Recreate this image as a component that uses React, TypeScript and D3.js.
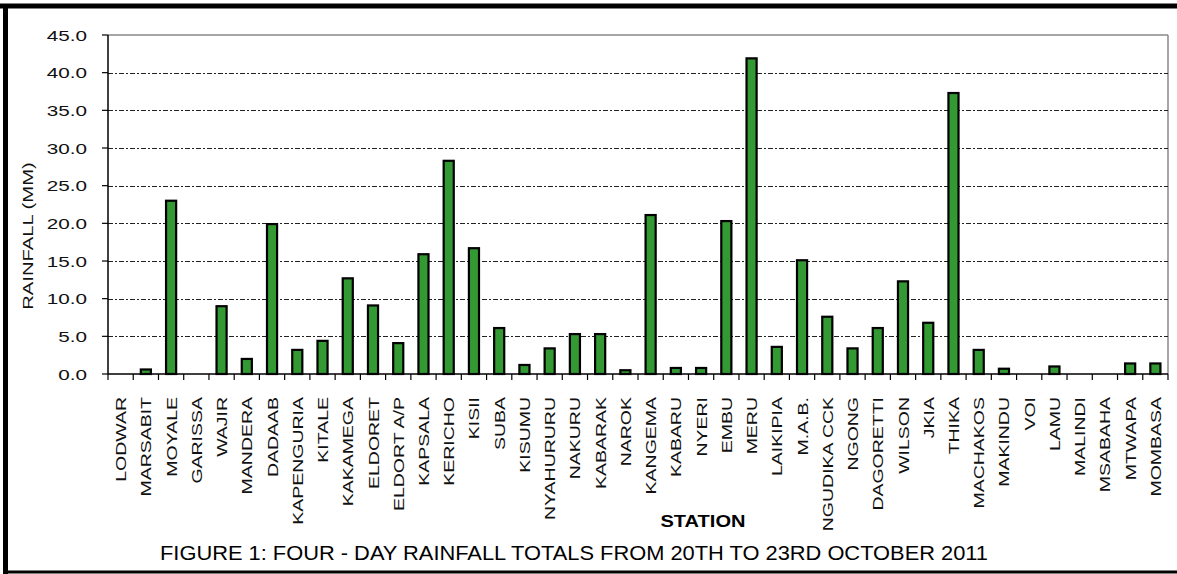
import React from "react";
import * as d3 from "d3";

const stations = [
  "LODWAR", "MARSABIT", "MOYALE", "GARISSA", "WAJIR", "MANDERA", "DADAAB",
  "KAPENGURIA", "KITALE", "KAKAMEGA", "ELDORET", "ELDORT A/P", "KAPSALA",
  "KERICHO", "KISII", "SUBA", "KISUMU", "NYAHURURU", "NAKURU", "KABARAK",
  "NAROK", "KANGEMA", "KABARU", "NYERI", "EMBU", "MERU", "LAIKIPIA", "M.A.B.",
  "NGUDIKA CCK", "NGONG", "DAGORETTI", "WILSON", "JKIA", "THIKA", "MACHAKOS",
  "MAKINDU", "VOI", "LAMU", "MALINDI", "MSABAHA", "MTWAPA", "MOMBASA",
];

const rainfall = [
  0, 0.6, 23.0, 0, 9.0, 2.0, 19.9,
  3.2, 4.4, 12.7, 9.1, 4.1, 15.9,
  28.3, 16.7, 6.1, 1.2, 3.4, 5.3, 5.3,
  0.5, 21.1, 0.8, 0.8, 20.3, 41.9, 3.6, 15.1,
  7.6, 3.4, 6.1, 12.3, 6.8, 37.3, 3.2,
  0.7, 0, 1.0, 0, 0, 1.4, 1.4,
];

const yTicks = [0, 5, 10, 15, 20, 25, 30, 35, 40, 45];

const W = 1177;
const H = 574;
const L = 108;
const R = 1168;
const T = 35;
const B = 374;

export default function App() {
  const x = d3.scaleBand<string>().domain(stations).range([L, R]).paddingInner(0).paddingOuter(0);
  const y = d3.scaleLinear().domain([0, 45]).range([B, T]);
  const bw = x.bandwidth() / 2.5;
  const font = "'Liberation Sans', Arial, sans-serif";

  return (
    <svg width={W} height={H} style={{ position: "absolute", left: 0, top: 0 }}>
      <rect x={0} y={0} width={W} height={H} fill="#fff" />
      {/* outer frame */}
      <line x1={0} x2={W} y1={6} y2={6} stroke="#000" strokeWidth={5} />
      <line x1={5.5} x2={5.5} y1={4} y2={H} stroke="#000" strokeWidth={5} />
      <line x1={4} x2={W} y1={572} y2={572} stroke="#000" strokeWidth={3} />

      {/* plot border */}
      <line x1={L} x2={R} y1={T} y2={T} stroke="#888" strokeWidth={1.5} />
      <line x1={R} x2={R} y1={T} y2={B} stroke="#888" strokeWidth={1.5} />

      {/* gridlines */}
      {yTicks.filter((t) => t > 0 && t < 45).map((t) => (
        <line key={"g" + t} x1={L} x2={R} y1={Math.round(y(t)) + 0.5} y2={Math.round(y(t)) + 0.5}
          stroke="#222" strokeWidth={1} strokeDasharray="5,2,2,2" />
      ))}

      {/* bars */}
      {stations.map((s, i) => {
        const v = rainfall[i];
        if (v <= 0) return null;
        const cx = (x(s) as number) + x.bandwidth() / 2;
        return (
          <rect key={s} x={cx - bw / 2} y={y(v)} width={bw} height={B - y(v)}
            fill="#339933" stroke="#000" strokeWidth={2.2} />
        );
      })}

      {/* y axis */}
      <line x1={L} x2={L} y1={T} y2={B} stroke="#000" strokeWidth={1.5} />
      {yTicks.map((t) => (
        <g key={"y" + t}>
          <line x1={L - 6} x2={L} y1={y(t)} y2={y(t)} stroke="#000" strokeWidth={1.2} />
          <text transform={`translate(87,${y(t) + 5.5}) scale(1.38,1)`} textAnchor="end" fontFamily={font} fontSize={15} fill="#111">
            {t.toFixed(1)}
          </text>
        </g>
      ))}
      <text transform={`translate(33,236) rotate(-90) scale(1.35,1)`} textAnchor="middle"
        fontFamily={font} fontSize={15} fill="#111">RAINFALL (MM)</text>

      {/* x axis */}
      <line x1={L} x2={R} y1={B} y2={B} stroke="#000" strokeWidth={1.5} />
      {stations.map((s, i) => (
        <line key={"t" + s} x1={L + i * x.step()} x2={L + i * x.step()} y1={B} y2={B + 6} stroke="#000" strokeWidth={1.2} />
      ))}
      <line x1={R} x2={R} y1={B} y2={B + 6} stroke="#000" strokeWidth={1.2} />
      {stations.map((s) => {
        const cx = (x(s) as number) + x.bandwidth() / 2;
        return (
          <text key={"l" + s} transform={`translate(${cx + 5.5},397) rotate(-90) scale(1.3,1)`} textAnchor="end"
            fontFamily={font} fontSize={15} fill="#111">{s}</text>
        );
      })}
      <text x={703} y={527} textAnchor="middle" fontFamily={font} fontWeight="bold" fontSize={17}
        textLength={85} lengthAdjust="spacingAndGlyphs" fill="#000">STATION</text>

      <text x={574} y={560} textAnchor="middle" fontFamily="'Liberation Sans Narrow', 'Liberation Sans', Arial, sans-serif"
        fontSize={20} textLength={828} lengthAdjust="spacingAndGlyphs" fill="#000">
        FIGURE 1: FOUR - DAY RAINFALL TOTALS FROM 20TH TO 23RD OCTOBER 2011
      </text>
    </svg>
  );
}
